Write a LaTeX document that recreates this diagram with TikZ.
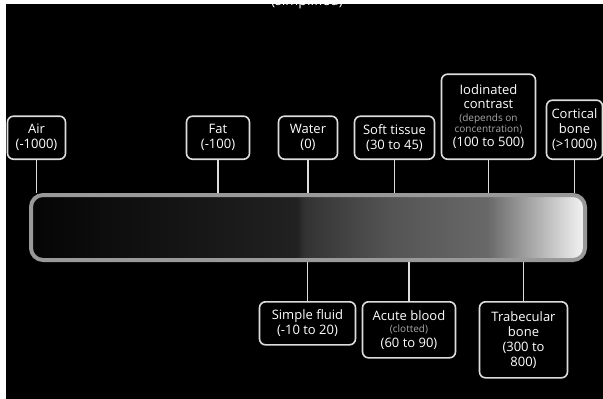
\documentclass[tikz,border=0pt]{standalone}
\usepackage{fontspec}
\setmainfont{Open Sans}
\usepackage{xcolor}
\usepackage{tikz}
\usetikzlibrary{shapes}

\definecolor{barrim}{HTML}{999999}
\definecolor{boxline}{HTML}{DDDDDD}
\definecolor{notegray}{HTML}{A8A8A8}
\pgfdeclarehorizontalshading{hubar}{100bp}{color(0bp)=(black!98); color(25bp)=(black!98); color(36bp)=(black!93); color(49bp)=(black!87); color(49.7bp)=(black!80); color(57.4bp)=(black!67); color(66.2bp)=(black!59); color(71bp)=(black!29); color(75bp)=(black!4); color(100bp)=(black!4)}
\newcommand{\hunote}[1]{{\fontsize{10}{11}\selectfont\color{notegray}#1}}

\begin{document}
\begin{tikzpicture}[x=1pt,y=-1pt,
	lbl/.style={draw=boxline, line width=1.6pt, rounded corners=6pt, text=white,
		align=center, inner sep=2pt, font=\fontsize{13}{15}\selectfont},
	conn/.style={draw=boxline, line width=1.8pt}]
		\useasboundingbox (0,0) rectangle (603,399);
		\fill[white] (0,0) rectangle (603,399);
		\fill[black] (6,4) rectangle (603,399);
		\begin{scope}
			\clip (6,4) rectangle (603,399);
			\node[anchor=base, text=white, font=\fontsize{14}{16}\selectfont] (ttl) at (307,5) {(simplified)};
		\end{scope}
		
		\node[draw=barrim, line width=4pt, rounded corners=12pt, shading=hubar,
			minimum width=554pt, minimum height=65pt, inner sep=0pt] (bar) at (308,227.5) {};
		
		\node[lbl, anchor=south, minimum width=58pt, minimum height=43pt] (air) at (36.5,160) {Air\\(-1000)};
		\node[lbl, anchor=south, minimum width=63pt, minimum height=43pt] (fat) at (218,160) {Fat\\(-100)};
		\node[lbl, anchor=south, minimum width=59pt, minimum height=43pt] (water) at (308,160) {Water\\(0)};
		\node[lbl, anchor=south, minimum width=80pt, minimum height=43pt] (soft) at (394.5,160) {Soft tissue\\(30 to 45)};
		\node[lbl, anchor=south, minimum width=94pt, minimum height=85pt] (iod) at (488.5,160)
			{Iodinated\\[-1pt]contrast\\[-2pt]\hunote{(depends on}\\[-4pt]\hunote{concentration)}\\[-1pt](100 to 500)};
		\node[lbl, anchor=south, minimum width=56pt, minimum height=59pt] (cort) at (574.5,160) {Cortical\\bone\\(>1000)};
		
		\node[lbl, anchor=north, minimum width=96pt, minimum height=43pt] (fluid) at (307.5,301) {Simple fluid\\(-10 to 20)};
		\node[lbl, anchor=north, minimum width=93pt, minimum height=56pt] (blood) at (409,301)
			{Acute blood\\[-3pt]\hunote{(clotted)}\\(60 to 90)};
		\node[lbl, anchor=north, minimum width=88pt, minimum height=76pt] (trab) at (523.5,301) {Trabecular\\bone\\(300 to\\800)};
		
		%
		\path[conn]
		(air) edge (air |- bar.north)
		(fat) edge (fat |- bar.north)
		(water) edge (water |- bar.north)
		(soft) edge (soft |- bar.north)
		(iod) edge (iod |- bar.north)
		(cort) edge (cort |- bar.north)
		
		(fluid) edge (fluid |- bar.south)
		(blood) edge (blood |- bar.south)
		(trab) edge (trab |- bar.south);
	\end{tikzpicture}
\end{document}
